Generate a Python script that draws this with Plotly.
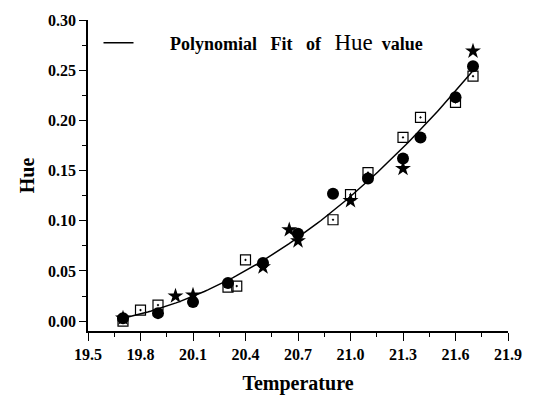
import numpy as np
import plotly.graph_objects as go

# Filled circles
circle_x = [19.7, 19.9, 20.1, 20.3, 20.5, 20.7, 20.9, 21.1, 21.3, 21.4, 21.6, 21.7]
circle_y = [0.003, 0.008, 0.019, 0.038, 0.058, 0.087, 0.127, 0.142, 0.162, 0.183, 0.223, 0.254]

# Open squares
square_x = [19.7, 19.8, 19.9, 20.3, 20.35, 20.4, 20.9, 21.0, 21.1, 21.3, 21.4, 21.6, 21.7]
square_y = [0.000, 0.011, 0.016, 0.034, 0.035, 0.061, 0.101, 0.126, 0.148, 0.183, 0.203, 0.218, 0.244]

# Stars
star_x = [19.7, 20.0, 20.1, 20.5, 20.65, 20.7, 21.0, 21.3, 21.7]
star_y = [0.003, 0.025, 0.026, 0.054, 0.091, 0.080, 0.120, 0.152, 0.269]

x_ticks = [19.5, 19.8, 20.1, 20.4, 20.7, 21.0, 21.3, 21.6, 21.9]
y_ticks = [0.00, 0.05, 0.10, 0.15, 0.20, 0.25, 0.30]

# Polynomial (2nd order) fit of all measured points
all_x = np.array(circle_x + square_x + star_x)
all_y = np.array(circle_y + square_y + star_y)
coef = np.polyfit(all_x, all_y, 2)
fit_x = np.linspace(min(all_x), max(all_x), 100)
fit_y = np.polyval(coef, fit_x)

FONT = "Liberation Serif"

legend_name = ("&nbsp;&nbsp;&nbsp;&nbsp;&nbsp;&nbsp;&nbsp;<b>Polynomial&nbsp;&nbsp; Fit&nbsp;&nbsp; of&nbsp;&nbsp; </b>"
               "<span style='font-size:23px'>Hue</span><b>&nbsp; value</b>")

fig = go.Figure()
fig.add_trace(go.Scatter(
    x=fit_x, y=fit_y, mode="lines",
    line=dict(color="black", width=1.5),
    name=legend_name, showlegend=True))
fig.add_trace(go.Scatter(
    x=square_x, y=square_y, mode="markers", showlegend=False,
    marker=dict(symbol="square-open-dot", size=10, color="black",
                line=dict(width=1.2, color="black"))))
fig.add_trace(go.Scatter(
    x=star_x, y=star_y, mode="markers", showlegend=False,
    marker=dict(symbol="star", size=12, color="black")))
fig.add_trace(go.Scatter(
    x=circle_x, y=circle_y, mode="markers", showlegend=False,
    marker=dict(symbol="circle", size=12, color="black")))

fig.update_layout(
    width=534, height=407,
    margin=dict(l=88, r=19, t=13, b=76),
    paper_bgcolor="white", plot_bgcolor="white",
    font=dict(family=FONT, color="black"),
    legend=dict(x=0.025, y=0.985, xanchor="left", yanchor="top",
                bgcolor="rgba(0,0,0,0)", font=dict(size=18, family=FONT)),
    xaxis=dict(
        range=[19.5, 21.9], tickvals=x_ticks,
        ticktext=[f"{v:.1f}" for v in x_ticks],
        showgrid=False, zeroline=False,
        showline=True, linecolor="black", linewidth=1.5,
        ticks="outside", ticklen=8, tickwidth=1.3, tickcolor="black",
        minor=dict(dtick=0.15, tick0=19.5, ticks="outside", ticklen=4,
                   tickwidth=1, tickcolor="black", showgrid=False),
        tickfont=dict(size=16, family=FONT, weight="bold"),
        ticklabeloverflow="allow",
        title=dict(text="<b>Temperature</b>", font=dict(size=20, family=FONT),
                   standoff=14)),
    yaxis=dict(
        range=[-0.0098, 0.30], tickvals=y_ticks,
        ticktext=[f"{v:.2f}" for v in y_ticks],
        showgrid=False, zeroline=False,
        showline=True, linecolor="black", linewidth=1.5,
        ticks="outside", ticklen=7, tickwidth=1.3, tickcolor="black",
        minor=dict(dtick=0.025, tick0=0, ticks="outside", ticklen=4,
                   tickwidth=1, tickcolor="black", showgrid=False),
        tickfont=dict(size=16, family=FONT, weight="bold"),
        ticklabeloverflow="allow",
        title=dict(text="<b>Hue</b>", font=dict(size=20, family=FONT),
                   standoff=8)),
)

fig.write_html("out.html",
               config={"displayModeBar": False},
               post_script="document.body.style.margin='0';"
                           "document.body.style.overflow='hidden';")
